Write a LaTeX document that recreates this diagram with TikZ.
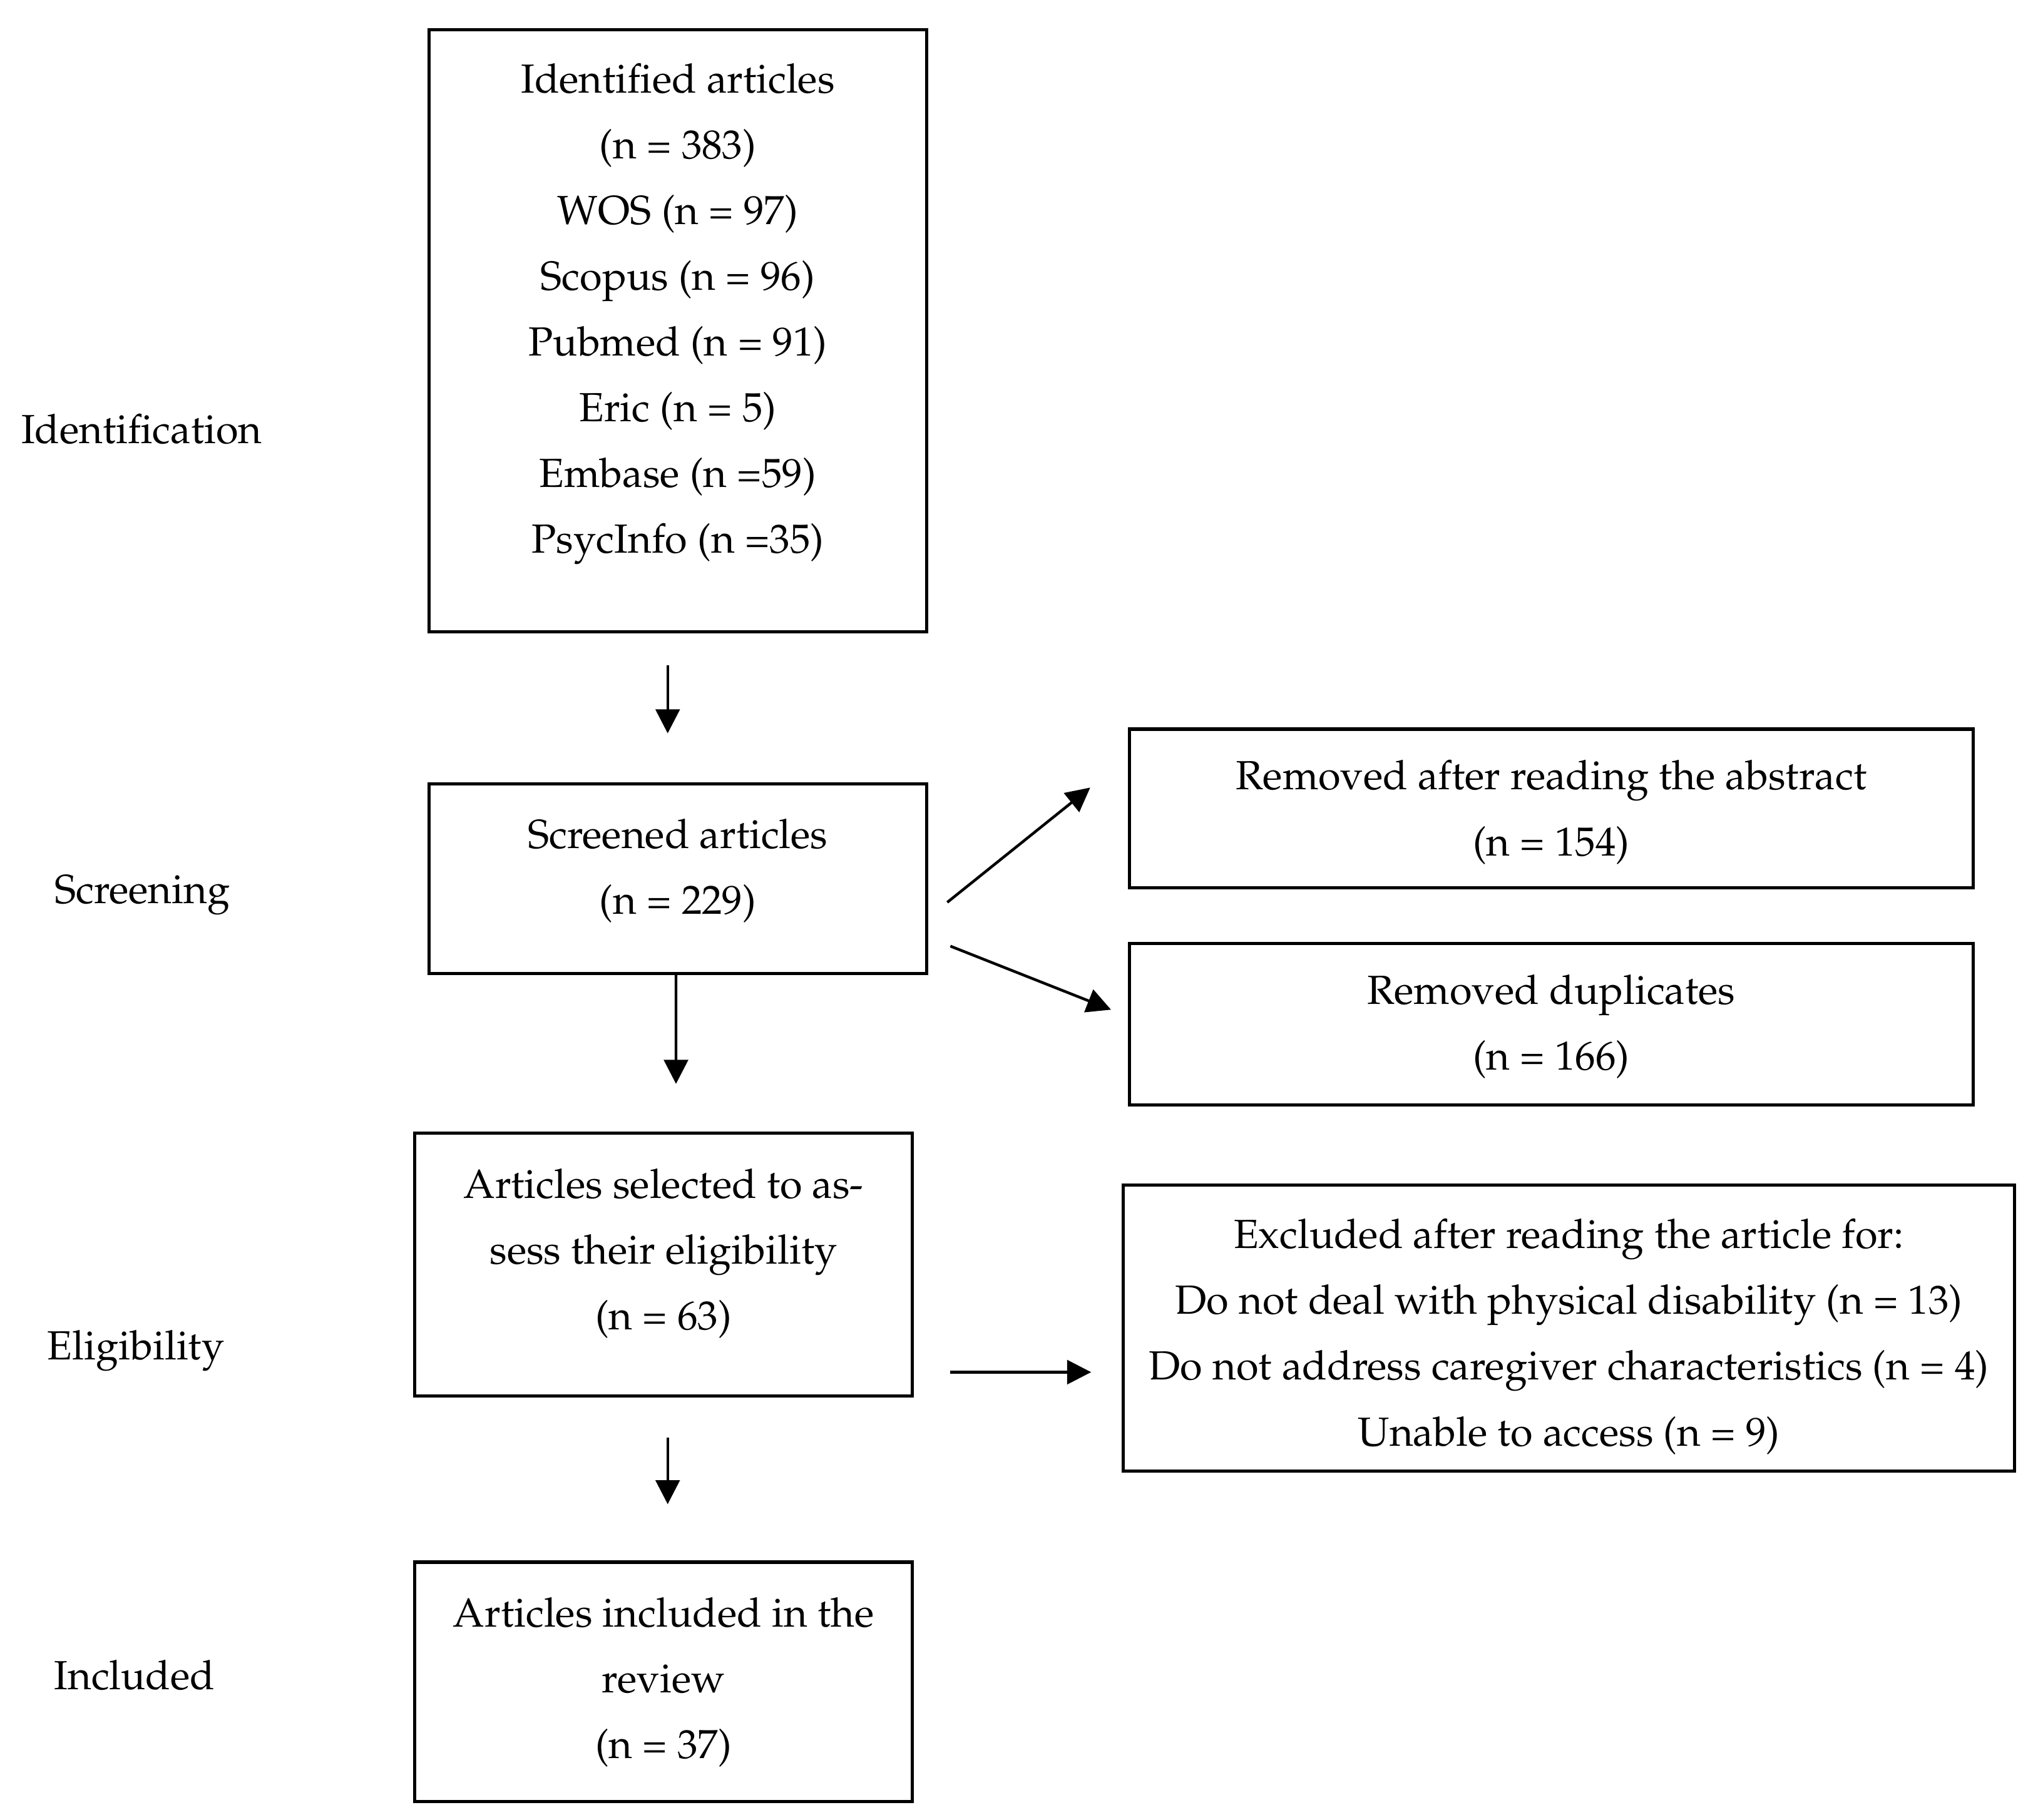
\documentclass[tikz,border=0pt]{standalone}
\usepackage[T1]{fontenc}
\usepackage{mathpazo}
\usetikzlibrary{arrows.meta,calc}

\begin{document}
\begin{tikzpicture}
% Box, arrow and label looks.
\tikzstyle{block}=[draw,line width=0.7pt,inner sep=0pt,outer sep=0pt]
\tikzstyle{blocktext}=[align=center,inner sep=0pt,font=\fontsize{8.9}{14.4}\selectfont]
\tikzstyle{flow}=[line width=0.6pt,-{Triangle[length=1.85mm,width=1.85mm]}]
\tikzstyle{stage}=[anchor=base,inner sep=0pt,font=\fontsize{8.9}{14.4}\selectfont]

\useasboundingbox (0,0) rectangle (15.68,-14.00);

% This draws the main column of boxes.
\node[block,minimum width=3.83cm,minimum height=4.63cm] (ident) at (5.215,-2.545) {};
\node[blocktext] (identtxt) at (5.215,-2.415) {Identified articles\\(n = 383)\\WOS (n = 97)\\Scopus (n = 96)\\Pubmed (n = 91)\\Eric (n = 5)\\Embase (n =59)\\PsycInfo (n =35)};

\node[block,minimum width=3.83cm,minimum height=1.46cm] (screen) at (5.215,-6.76) {};
\node[blocktext] (screentxt) at (5.215,-6.70) {Screened articles\\(n = 229)};

\node[block,minimum width=3.83cm,minimum height=2.02cm] (elig) at (5.105,-9.73) {};
\node[blocktext] (eligtxt) at (5.105,-9.645) {Articles selected to as-\\sess their eligibility\\(n = 63)};

\node[block,minimum width=3.83cm,minimum height=1.84cm] (incl) at (5.105,-12.94) {};
\node[blocktext] (incltxt) at (5.105,-12.945) {Articles included in the\\review\\(n = 37)};

% This draws the boxes on the right.
\node[block,minimum width=6.49cm,minimum height=1.22cm] (abstr) at (11.935,-6.22) {};
\node[blocktext] (abstrtxt) at (11.935,-6.25) {Removed after reading the abstract\\(n = 154)};

\node[block,minimum width=6.49cm,minimum height=1.24cm] (dupl) at (11.935,-7.88) {};
\node[blocktext] (dupltxt) at (11.935,-7.90) {Removed duplicates\\(n = 166)};

\node[block,minimum width=6.86cm,minimum height=2.20cm] (excl) at (12.07,-10.22) {};
\node[blocktext] (excltxt) at (12.07,-10.285) {Excluded after reading the article for:\\Do not deal with physical disability (n = 13)\\Do not address caregiver characteristics (n = 4)\\Unable to access (n = 9)};

% This draws the stage names.
\node[stage] (lblident) at (1.09,-3.41) {Identification};
\node[stage] (lblscreen) at (1.095,-6.95) {Screening};
\node[stage] (lblelig) at (1.045,-10.46) {Eligibility};
\node[stage] (lblincl) at (1.035,-13.00) {Included};

% This draws the arrows.
\draw[flow] ($(ident.south)+(-0.078,-0.26)$) -- ($(screen.north)+(-0.078,0.387)$);
\draw[flow] ($(screen.east)+(0.158,-0.183)$) -- ($(abstr.west)+(-0.302,0.16)$);
\draw[flow] ($(screen.east)+(0.182,-0.52)$) -- ($(dupl.west)+(-0.142,0.111)$);
\draw[flow] ($(screen.south)+(-0.014,0)$) -- ($(elig.north)+(0.096,0.38)$);
\draw[flow] ($(elig.east)+(0.292,-0.828)$) -- ($(excl.west)+(-0.245,-0.338)$);
\draw[flow] ($(elig.south)+(0.032,-0.32)$) -- ($(incl.north)+(0.032,0.446)$);

\end{tikzpicture}
\end{document}
